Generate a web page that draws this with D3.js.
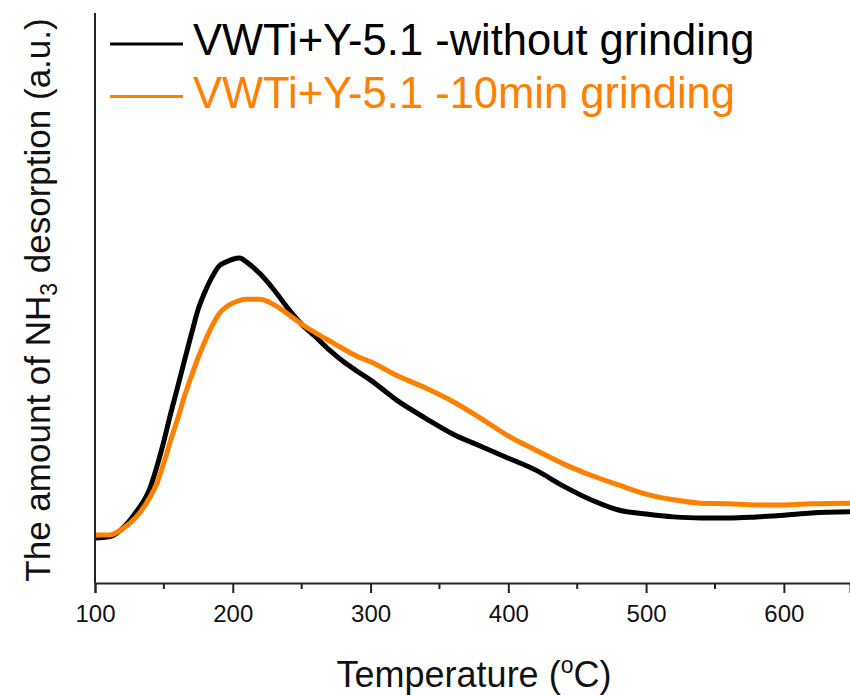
<!DOCTYPE html>
<html>
<head>
<meta charset="utf-8">
<style>
  body { margin: 0; background: #fff; }
  svg text { font-family: "Liberation Sans", Arial, sans-serif; }
</style>
</head>
<body>
<svg class="tpd" width="850" height="695"></svg>

<script src="https://d3js.org/d3.v7.min.js"></script>
<script>
  // temperatures (°C) and NH3 desorption signal (a.u.)
  const temps = [100, 110, 120, 130, 140, 145, 150, 155, 160, 165, 170, 175, 180, 185, 190, 195,
    200, 205, 210, 220, 230, 240, 250, 260, 270, 280, 290, 300, 320, 340, 360, 380, 400,
    420, 440, 460, 480, 500, 520, 540, 560, 580, 600, 620, 648];

  const withoutGrinding = [7.9, 8.1, 9.6, 12.5, 16.7, 20.5, 24.9, 29.8, 34.4, 39.1, 43.7, 48.1,
    51.2, 53.7, 55.6, 56.3, 56.8, 57.0, 56.3, 54.2, 51.4, 48.2, 45.4, 43.2, 40.9, 38.9, 37.2,
    35.6, 31.9, 28.9, 26.1, 24.0, 21.9, 19.8, 17.0, 14.6, 12.8, 12.1, 11.6, 11.4, 11.4, 11.6,
    11.9, 12.3, 12.5];

  const grinding10 = [8.4, 8.4, 9.5, 11.6, 15.1, 17.5, 21.1, 25.1, 28.8, 32.8, 36.3, 39.6,
    42.5, 45.1, 47.2, 48.4, 49.1, 49.6, 49.8, 49.8, 48.8, 47.2, 45.4, 43.9, 42.5, 41.1, 39.8,
    38.8, 36.3, 34.2, 31.8, 28.9, 25.8, 23.3, 20.9, 18.9, 17.2, 15.6, 14.6, 14.0, 13.9, 13.7,
    13.7, 13.9, 14.0];

  const seriesNames = ["VWTi+Y-5.1 -without grinding", "VWTi+Y-5.1 -10min grinding"];
  const seriesColors = ["#000000", "#ff8000"];
  const xTicks = [100, 200, 300, 400, 500, 600];
  const xMinorTicks = [150, 250, 350, 450, 550];

  const margin = { left: 95, right: 0, top: 13, bottom: 112 };
  const width = 850;
  const height = 695;

  const svg = d3.select("svg.tpd");

  const x = d3.scaleLinear()
    .domain([100, 648])
    .range([margin.left, width - margin.right]);

  const y = d3.scaleLinear()
    .domain([0, 100])
    .range([height - margin.bottom, margin.top]);

  const series = [withoutGrinding, grinding10].map((vals, i) => ({
    name: seriesNames[i],
    color: seriesColors[i],
    points: temps.map((t, j) => [t, vals[j]])
  }));

  const line = d3.line()
    .x(d => x(d[0]))
    .y(d => y(d[1]))
    .curve(d3.curveMonotoneX);

  // curves (orange drawn on top like the original)
  svg.append("g")
    .selectAll("path")
    .data(series)
    .join("path")
    .attr("fill", "none")
    .attr("stroke", d => d.color)
    .attr("stroke-width", 5)
    .attr("stroke-linejoin", "round")
    .attr("d", d => line(d.points));

  // x axis
  const xAxis = svg.append("g")
    .attr("transform", `translate(0,${y(0)})`)
    .call(d3.axisBottom(x).tickValues(xTicks).tickSize(10).tickPadding(12).tickFormat(d3.format("d")));
  xAxis.select(".domain").attr("stroke", "#222").attr("stroke-width", 2);
  xAxis.selectAll(".tick line").attr("stroke", "#222").attr("stroke-width", 2);
  xAxis.selectAll(".tick text")
    .attr("font-size", 24)
    .attr("fill", "#111")
    .attr("font-family", "Liberation Sans, Arial, sans-serif");

  svg.append("g")
    .selectAll("line")
    .data(xMinorTicks)
    .join("line")
    .attr("x1", d => x(d)).attr("x2", d => x(d))
    .attr("y1", y(0)).attr("y2", y(0) + 6)
    .attr("stroke", "#222")
    .attr("stroke-width", 2);

  // y axis line only (no ticks)
  svg.append("line")
    .attr("x1", x(100)).attr("x2", x(100))
    .attr("y1", margin.top).attr("y2", y(0))
    .attr("stroke", "#222")
    .attr("stroke-width", 2);

  // axis titles
  const xTitle = svg.append("text")
    .attr("x", 474)
    .attr("y", 687)
    .attr("text-anchor", "middle")
    .attr("font-size", 36)
    .attr("fill", "#111");
  xTitle.append("tspan").text("Temperature (");
  xTitle.append("tspan").attr("font-size", 23).attr("dy", -14).text("o");
  xTitle.append("tspan").attr("dy", 14).text("C)");

  const yTitle = svg.append("text")
    .attr("transform", "translate(50,300) rotate(-90)")
    .attr("text-anchor", "middle")
    .attr("font-size", 35)
    .attr("fill", "#111");
  yTitle.append("tspan").text("The amount of NH");
  yTitle.append("tspan").attr("font-size", 23).attr("dy", 7).text("3");
  yTitle.append("tspan").attr("dy", -7).text(" desorption (a.u.)");

  // legend
  const legend = svg.append("g")
    .selectAll("g")
    .data(series)
    .join("g")
    .attr("transform", (d, i) => `translate(0,${44 + i * 52.5})`);

  legend.append("line")
    .attr("x1", 110).attr("x2", 183)
    .attr("stroke", d => d.color)
    .attr("stroke-width", 3);

  legend.append("text")
    .attr("x", 193)
    .attr("y", 11)
    .attr("font-size", 43.5)
    .attr("fill", d => d.color)
    .text(d => d.name);
</script>
</body>
</html>
